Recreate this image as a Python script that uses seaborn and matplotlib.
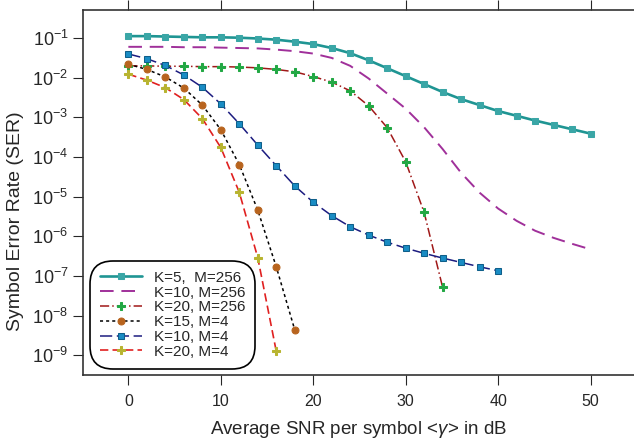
import numpy as np
import pandas as pd
import matplotlib
matplotlib.use("Agg")
import matplotlib.pyplot as plt
import seaborn as sns

# SNR values (dB) and log10(SER)
snr_k5_m256 = list(range(0, 51, 2))
ser_k5_m256 = [-0.95, -0.95, -0.96, -0.97, -0.98, -0.98, -0.99, -1.01, -1.04, -1.09,
               -1.15, -1.25, -1.38, -1.56, -1.76, -1.96, -2.16, -2.36, -2.54, -2.69,
               -2.84, -2.96, -3.08, -3.19, -3.30, -3.41]

snr_k10_m256 = list(range(0, 51, 2))
ser_k10_m256 = [-1.22, -1.22, -1.22, -1.23, -1.23, -1.24, -1.25, -1.26, -1.29, -1.33,
                -1.39, -1.50, -1.70, -2.02, -2.40, -2.78, -3.25, -3.80, -4.40, -4.90,
                -5.30, -5.61, -5.86, -6.04, -6.19, -6.33]

snr_k20_m256 = list(range(0, 35, 2))
ser_k20_m256 = [-1.70, -1.70, -1.71, -1.71, -1.72, -1.72, -1.73, -1.75, -1.79, -1.85,
                -1.97, -2.11, -2.33, -2.71, -3.26, -4.12, -5.40, -7.29]

snr_k15_m4 = list(range(0, 19, 2))
ser_k15_m4 = [-1.66, -1.79, -1.98, -2.26, -2.69, -3.31, -4.19, -5.34, -6.77, -8.36]

snr_k10_m4 = list(range(0, 41, 2))
ser_k10_m4 = [-1.40, -1.52, -1.69, -1.93, -2.24, -2.66, -3.16, -3.70, -4.22, -4.73,
              -5.14, -5.48, -5.76, -5.97, -6.15, -6.30, -6.43, -6.55, -6.66, -6.77,
              -6.87]

snr_k20_m4 = list(range(0, 17, 2))
ser_k20_m4 = [-1.91, -2.06, -2.25, -2.55, -3.03, -3.76, -4.89, -6.54, -8.90]

labels = ["K=5,  M=256", "K=10, M=256", "K=20, M=256",
          "K=15, M=4", "K=10, M=4", "K=20, M=4"]

sns.set_style("ticks")
plt.rcParams['font.family'] = ['Liberation Sans', 'DejaVu Sans']
plt.rcParams['mathtext.fontset'] = 'custom'
plt.rcParams['mathtext.rm'] = 'Liberation Sans'
plt.rcParams['mathtext.it'] = 'Liberation Sans:italic'

fig = plt.figure(figsize=(6.34, 4.43), dpi=100)
ax = fig.add_axes([0.131, 0.1535, 0.869, 0.824])

series = [
    (snr_k5_m256, ser_k5_m256, dict(color="#1f9593", linestyle="-", linewidth=1.9,
                                    marker="s", markersize=5, markerfacecolor="#3aa6a6",
                                    markeredgecolor="#3aa6a6")),
    (snr_k10_m256, ser_k10_m256, dict(color="#a0309a", linestyle=(0, (7, 4)), linewidth=1.4)),
    (snr_k20_m256, ser_k20_m256, dict(color="#a01818", linestyle=(0, (6, 2, 1, 2)), linewidth=1.1,
                                      marker="P", markersize=6, markerfacecolor="#22a844",
                                      markeredgecolor="#22a844")),
    (snr_k15_m4, ser_k15_m4, dict(color="black", linestyle=(0, (2, 2)), linewidth=1.1,
                                  marker="o", markersize=5, markerfacecolor="#b8641e",
                                  markeredgecolor="#b8641e")),
    (snr_k10_m4, ser_k10_m4, dict(color="#1c1c80", linestyle=(0, (8, 3)), linewidth=1.1,
                                  marker="s", markersize=5, markerfacecolor="#1a8cc4",
                                  markeredgecolor="#0f5f8a")),
    (snr_k20_m4, ser_k20_m4, dict(color="#e02020", linestyle=(0, (5, 2.5)), linewidth=1.2,
                                  marker="P", markersize=6, markerfacecolor="#b8b430",
                                  markeredgecolor="#b8b430")),
]

for (xs, ys, style), lab in zip(series, labels):
    df = pd.DataFrame({"snr": xs, "ser": 10.0 ** np.array(ys)})
    sns.lineplot(data=df, x="snr", y="ser", ax=ax, label=lab, **style)

ax.set_yscale("log")
ax.set_xlim(-4.9, 54.7)
ax.set_ylim(10 ** -9.5, 10 ** -0.29)
ax.set_yticks([10.0 ** -k for k in range(1, 10)])
ax.set_yticklabels([r"$10^{-%d}$" % k for k in range(1, 10)])
ax.yaxis.set_minor_locator(matplotlib.ticker.NullLocator())
ax.set_xticks([0, 10, 20, 30, 40, 50])
ax.tick_params(axis="x", top=True, direction="out", length=7, labelsize=11.5, pad=7)
ax.tick_params(axis="y", direction="out", length=7, labelsize=13)
ax.spines["right"].set_visible(False)
for s in ["left", "top", "bottom"]:
    ax.spines[s].set_color("#333333")
    ax.spines[s].set_linewidth(1.2)

ax.set_xlabel(r"Average SNR per symbol <$\gamma$> in dB", fontsize=13.5, labelpad=7)
ax.set_ylabel("Symbol Error Rate (SER)", fontsize=14, labelpad=3)
ax.yaxis.set_label_coords(-0.108, 0.42)

leg = ax.legend(loc="lower left", bbox_to_anchor=(0.005, 0.005), fontsize=11,
                handlelength=2.7, labelspacing=0.05, frameon=True, fancybox=True,
                borderpad=0.45, handletextpad=0.8, borderaxespad=0.5)
leg.get_frame().set_edgecolor("black")
leg.get_frame().set_linewidth(1.2)
leg.get_frame().set_alpha(None)
leg.get_frame().set_facecolor("none")
leg.get_frame().set_boxstyle("round", pad=0.2, rounding_size=1.5)

fig.savefig("out.png", dpi=100)
